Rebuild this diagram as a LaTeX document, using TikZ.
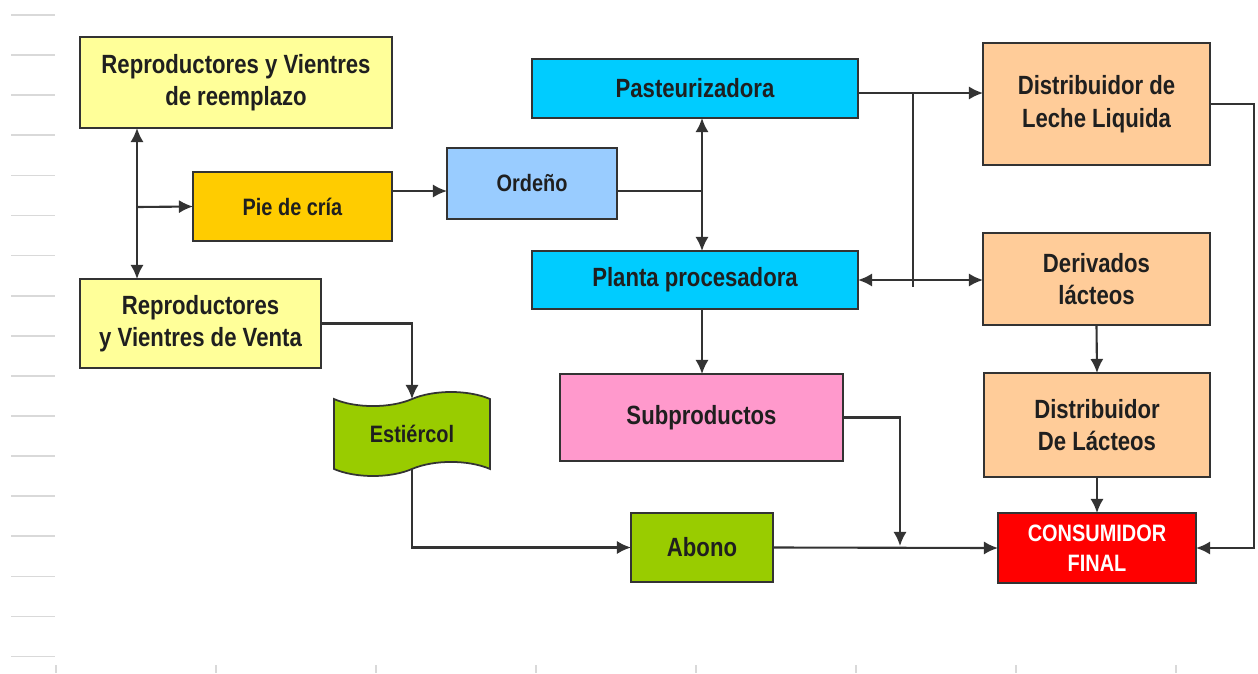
\documentclass[tikz,border=0pt]{standalone}
\usepackage{fontspec}
\setmainfont{Liberation Sans}[FakeStretch=0.84]
\usetikzlibrary{arrows.meta,shapes.symbols}
\colorlet{gcol}{black!15!white}
\colorlet{bcol}{black!80!white}
\definecolor{colY}{HTML}{FFFF99}
\definecolor{colO}{HTML}{FFCC00}
\definecolor{colB}{HTML}{99CCFF}
\definecolor{colC}{HTML}{00CCFF}
\definecolor{colP}{HTML}{FF99CC}
\definecolor{colG}{HTML}{99CC00}
\definecolor{colS}{HTML}{FFCC99}
\definecolor{colR}{HTML}{FF0000}
\tikzstyle{box}=[rectangle, draw=bcol, line width=1pt, inner sep=0pt, outer sep=0pt, align=center, text=black!88, font=\fontsize{15}{18.5}\selectfont\bfseries]
\tikzstyle{sbox}=[box, font=\fontsize{13.5}{17}\selectfont\bfseries]
\tikzstyle{line}=[line width=1.2pt, bcol]
\tikzstyle{arr}=[line, -{Latex[length=8pt,width=7.5pt]}]
\tikzstyle{darr}=[line, {Latex[length=8pt,width=7.5pt]}-{Latex[length=8pt,width=7.5pt]}]
\tikzstyle{grid}=[line width=1pt, gcol]

\begin{document}
\begin{tikzpicture}[x=0.02cm, y=-0.02cm]
			\useasboundingbox (0,0) rectangle (1258,673);
			\foreach \k in {0,...,16} \draw[grid] (11,15+40.1*\k) -- (55,15+40.1*\k);
			\foreach \k in {0,...,7} \draw[grid] (56+160*\k,665) -- (56+160*\k,673);
			\node[box, fill=colY, minimum width=312*0.02cm, minimum height=91*0.02cm] (rvr) at (236, 82.5) {Reproductores y Vientres\\de reemplazo};
			\node[sbox, fill=colO, minimum width=199*0.02cm, minimum height=69*0.02cm] (pie) at (292.5, 206.5) {Pie de cría};
			\node[box, fill=colY, minimum width=241*0.02cm, minimum height=89*0.02cm] (vta) at (200.5, 323.5) {Reproductores\\y Vientres de Venta};
			\node[sbox, tape, fill=colG, tape bend height=8pt, minimum width=156*0.02cm, minimum height=84*0.02cm] (est) at (412, 434) {Estiércol};
			\node[sbox, fill=colB, minimum width=170*0.02cm, minimum height=71*0.02cm] (ord) at (532, 183.5) {Ordeño};
			\node[box, fill=colC, minimum width=326*0.02cm, minimum height=59*0.02cm] (pas) at (695, 88.5) {Pasteurizadora};
			\node[box, fill=colC, minimum width=326*0.02cm, minimum height=58*0.02cm] (pla) at (695, 280) {Planta procesadora};
			\node[box, fill=colP, minimum width=283*0.02cm, minimum height=87*0.02cm] (sub) at (701.5, 417.5) {Subproductos};
			\node[box, fill=colG, minimum width=142*0.02cm, minimum height=69*0.02cm] (abo) at (702, 547.5) {Abono};
			\node[box, fill=colS, minimum width=227*0.02cm, minimum height=122*0.02cm] (dll) at (1096.5, 104) {Distribuidor de\\Leche Liquida};
			\node[box, fill=colS, minimum width=227*0.02cm, minimum height=92*0.02cm] (der) at (1096.5, 279) {Derivados\\lácteos};
			\node[box, fill=colS, minimum width=226*0.02cm, minimum height=104*0.02cm] (dla) at (1097, 425) {Distribuidor\\De Lácteos};
			\node[sbox, fill=colR, text=white, minimum width=198*0.02cm, minimum height=70*0.02cm] (con) at (1097, 548) {CONSUMIDOR\\FINAL};
			\coordinate (jr) at (137, 207);
			\coordinate (jo) at (702, 191);
			\coordinate (jd) at (913, 93);
			\coordinate (jd2) at (913, 287);
			\coordinate (js) at (900, 546);
			\draw[darr] (rvr.south -| jr) -- (vta.north -| jr);
			\draw[arr] (jr) -- (pie.west);
			\draw[arr] (pie.east |- jo) -- (ord.west |- jo);
			\draw[line] (ord.east |- jo) -- (jo);
			\draw[darr] (pas.south -| jo) -- (pla.north -| jo);
			\draw[arr] (pas.east |- jd) -- (dll.west |- jd);
			\draw[line] (jd) -- (jd2);
			\draw[darr] (pla.east) -- (der.west |- pla.east);
			\draw[arr] (pla.south -| jo) -- (sub.north -| jo);
			\draw[arr] (vta.east) -| (est.north);
			\draw[arr] (est.south) |- (abo.west);
			\draw[arr] (abo.east) -- (con.west);
			\draw[arr] (sub.east) -| (js);
			\draw[arr] (der.south) -- (dla.north);
			\draw[arr] (dla.south) -- (con.north);
			\draw[arr] (dll.east) -- ++(44,0) |- (con.east);
		\end{tikzpicture}
\end{document}
